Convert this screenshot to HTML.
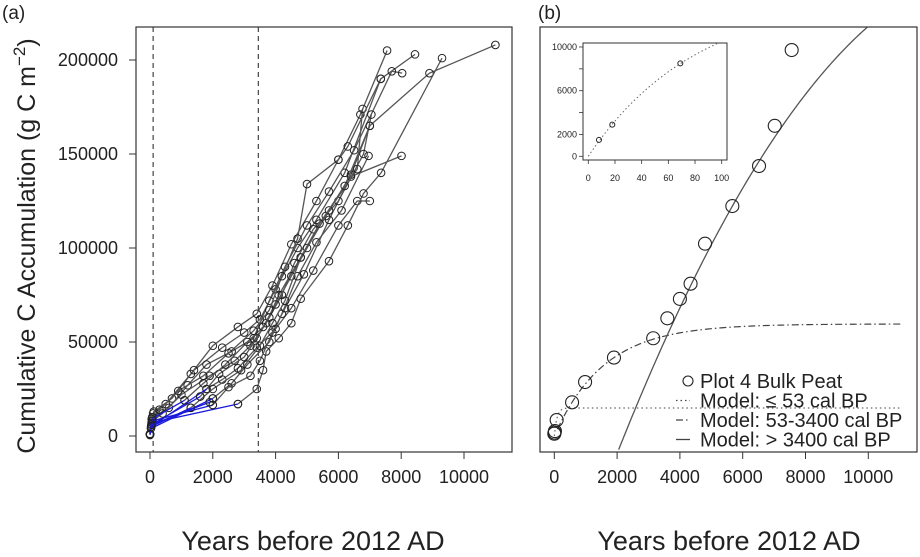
<!DOCTYPE html>
<html><head><meta charset="utf-8">
<style>
body{margin:0;background:#fff;}
svg{display:block;font-family:"Liberation Sans",sans-serif;}
</style></head>
<body>
<svg id="c" width="920" height="557" viewBox="0 0 920 557" xmlns="http://www.w3.org/2000/svg"></svg>
<script>
// ---- Panel (a) data: [years, cumulative C in thousands g C m^-2]
const aTicksX = [0, 2000, 4000, 6000, 8000, 10000];
const aTicksY = [0, 50000, 100000, 150000, 200000];
const aVLines = [100, 3450];
const blackSeries = [
 [[0,1],[50,6],[100,12],[500,17],[1300,33],[2000,48],[2800,58],[3400,65],[3900,80],[4500,102],[5300,125],[6000,147],[6700,171],[7550,205]],
 [[0,1],[60,7],[120,13],[700,20],[1400,35],[2300,47],[3000,55],[3500,62],[4000,78],[4700,100],[5300,115],[6200,140],[7350,190],[8440,203]],
 [[0,1],[40,5],[90,10],[600,15],[1200,27],[1800,38],[2600,45],[3300,52],[3800,72],[4300,90],[5000,112],[5700,130],[6500,152],[7700,194],[8030,193]],
 [[0,0.5],[80,8],[400,12],[1000,22],[1900,32],[2700,40],[3200,48],[3700,60],[4100,75],[4800,95],[5600,117],[6400,139],[7000,165],[8900,193],[11000,208]],
 [[1800,25],[2300,30],[2800,36],[3400,47],[4000,57],[4500,68],[5200,88],[6000,112],[6600,125],[7000,125]],
 [[2800,17],[3400,25],[3600,35],[3700,45],[4100,52],[4500,60],[4800,73],[5700,93],[6300,112],[6800,129],[7360,140],[9300,201]],
 [[2000,20],[2600,28],[3100,38],[3800,50],[4200,65],[4700,85],[5300,103],[6100,120],[6960,149]],
 [[2000,16.5],[2500,26],[3200,32],[3500,40],[3900,55],[4300,68],[4900,86],[5700,115],[6400,138],[8010,149]],
 [[1600,21],[2200,33],[3000,42],[3400,52],[3800,63],[4200,75],[4600,92],[5200,110],[6000,125],[6800,150],[7050,171]],
 [[1100,19],[1700,28],[2400,38],[3100,50],[3600,58],[4000,70],[4500,85],[5000,100],[5700,120],[6600,142],[6770,174]],
 [[1300,15],[2000,25],[2900,35],[3500,48],[3900,60],[4300,72],[4800,95],[5400,113],[6200,133],[7000,165]],
 [[0,1],[70,10],[300,14],[900,24],[1700,32],[2500,44],[3300,56],[3800,67],[4200,85],[4700,105],[5000,134],[6000,147],[6300,154],[7350,190]]
];
const blueSeries = [
 [[0,1],[40,5],[1800,25]],
 [[0,1],[50,7],[2800,17]],
 [[0,1],[30,4],[2000,20]],
 [[0,1],[60,8],[2000,16.5]],
 [[0,1],[45,6],[1600,21]],
 [[0,1],[55,9],[1100,19]],
 [[0,1],[35,5],[1300,15]],
 [[0,1],[50,6],[1900,18]]
];
// ---- Panel (b) data
const bTicksX = [0, 2000, 4000, 6000, 8000, 10000];
const bYears = [0, 10, 20, 75, 566, 980, 1900, 3150, 3600, 4000, 4340, 4800, 5670, 6520, 7020, 7560];
const bValues = [1.2, 1.8, 2.6, 8.5, 17.9, 28.7, 41.7, 52.0, 62.6, 72.9, 81.0, 102.3, 122.3, 143.6, 165.0, 205.3];
const modelEarlyMax = 14.9, modelEarlyK = 82;
const modelMidMax = 59.6, modelMidK = 1580;
const modelLate = {x0:2020, y0:-8.5, b:42.1, c:0.00172};
// ---- Inset data
const insetTicksX = [0,20,40,60,80,100];
const insetTicksY = [0,2000,6000,10000];
const insetYears = [8, 18, 69];
const insetValues = [1500, 2900, 8500];

const svg = document.getElementById('c');
const NS = 'http://www.w3.org/2000/svg';
function mk(tag, attrs, parent){const e=document.createElementNS(NS,tag);for(const k in attrs)e.setAttribute(k,attrs[k]);(parent||svg).appendChild(e);return e;}
function txt(s, attrs, parent){const e=mk('text',attrs,parent);e.textContent=s;return e;}

const ax = v => 150 + v*0.0314;
const ay = v => 436 - v*1.88;
const bx = v => 554.3 + v*0.0314;
const by = v => 436 - v*1.88;
const ix = v => 588.3 + v*1.334;
const iy = v => 156.3 - v*0.01093;

// Panel a
const ga = mk('g',{});  
const lab = txt('(a)',{x:2,y:19,'font-size':19,fill:'#222'},ga);
 
aVLines.forEach(v=>{const l=mk('line',{x1:ax(v),x2:ax(v),y1:27,y2:452,stroke:'#444','stroke-width':1.2,'stroke-dasharray':'5,4'},ga);
  });
function drawSeries(arr,color,parent,name){
  arr.forEach(s=>{
    const g=mk('g',{},parent);
     
    mk('polyline',{points:s.map(p=>ax(p[0])+','+ay(p[1])).join(' '),fill:'none',stroke:color,'stroke-width':1.3},g);
    s.forEach(p=>{const c=mk('circle',{cx:ax(p[0]),cy:ay(p[1]),r:3.8,fill:'none',stroke:'#222','stroke-width':1},g);
       });
  });
}
drawSeries(blackSeries,'#555',ga,'core-series');
drawSeries(blueSeries,'#1a1adb',ga,'recent-series');
const fa=mk('rect',{x:136,y:27,width:376,height:425,fill:'none',stroke:'#333','stroke-width':1.2},ga);
 
aTicksX.forEach(v=>{mk('line',{x1:ax(v),x2:ax(v),y1:452,y2:459,stroke:'#333'},ga);
 const t=txt(String(v),{x:ax(v),y:483,'font-size':18,'text-anchor':'middle',fill:'#222'},ga);
  });
aTicksY.forEach(v=>{mk('line',{x1:129,x2:136,y1:ay(v/1000),y2:ay(v/1000),stroke:'#333'},ga);
 const t=txt(String(v),{x:118,y:ay(v/1000)+6,'font-size':18,'text-anchor':'end',fill:'#222'},ga);
  });
const xa=txt('Years before 2012 AD',{x:313,y:550,'font-size':27,'text-anchor':'middle',fill:'#222'},ga);
 
const ya=mk('text',{transform:'translate(35,246) rotate(-90)','font-size':25,'text-anchor':'middle',fill:'#222'},ga);
 
ya.innerHTML='Cumulative C Accumulation (g C m<tspan dy="-10" font-size="17">−2</tspan><tspan dy="10">)</tspan>';

// Panel b
const gb = mk('g',{});  
const lb = txt('(b)',{x:538,y:19,'font-size':19,fill:'#222'},gb);
 
const clipB = mk('clipPath',{id:'cb'},gb); mk('rect',{x:540,y:27,width:377,height:425},clipB);
const gm = mk('g',{'clip-path':'url(#cb)'},gb);
let pe=[],pm=[],pl=[];
for(let x=0;x<=11050;x+=50){
  pe.push(bx(x)+','+by(modelEarlyMax*(1-Math.exp(-x/modelEarlyK))));
  if(x>=75) pm.push(bx(x)+','+by(modelMidMax*(1-Math.exp(-x/modelMidK))));
  if(x>=modelLate.x0){const t=x-modelLate.x0;pl.push(bx(x)+','+by(modelLate.y0+(modelLate.b*t - modelLate.c*t*t)/1000));}
}
const m1=mk('polyline',{points:pe.join(' '),fill:'none',stroke:'#666','stroke-width':1.2,'stroke-dasharray':'1.5,3'},gm);
 
const m2=mk('polyline',{points:pm.join(' '),fill:'none',stroke:'#444','stroke-width':1.2,'stroke-dasharray':'7,3,1.5,3'},gm);
 
const m3=mk('polyline',{points:pl.join(' '),fill:'none',stroke:'#555','stroke-width':1.3},gm);
 
bYears.forEach((v,i)=>{const c=mk('circle',{cx:bx(v),cy:by(bValues[i]),r:6.5,fill:'none',stroke:'#222','stroke-width':1.1},gb);
  });
const fb=mk('rect',{x:540,y:27,width:377,height:425,fill:'none',stroke:'#333','stroke-width':1.2},gb);
 
bTicksX.forEach(v=>{mk('line',{x1:bx(v),x2:bx(v),y1:452,y2:459,stroke:'#333'},gb);
 const t=txt(String(v),{x:bx(v),y:483,'font-size':18,'text-anchor':'middle',fill:'#222'},gb);
  });
const xb=txt('Years before 2012 AD',{x:729,y:550,'font-size':27,'text-anchor':'middle',fill:'#222'},gb);
 
// legend
const lg=mk('g',{},gb);  
const legItems=[['Plot 4 Bulk Peat','pt'],['Model: ≤ 53 cal BP','1.5,3'],['Model: 53-3400 cal BP','7,3,1.5,3'],['Model: > 3400 cal BP','']];
legItems.forEach((it,i)=>{const y=388+i*19.5;
 const e=mk('g',{},lg);  
 if(it[1]==='pt') mk('circle',{cx:688,cy:y-7,r:5,fill:'none',stroke:'#222','stroke-width':1.1},e);
 else {const a={x1:676,x2:690,y1:y-7,y2:y-7,stroke:'#444','stroke-width':1.3};if(it[1])a['stroke-dasharray']=it[1];mk('line',a,e);}
 txt(it[0],{x:700,y:y,'font-size':20,fill:'#222'},e);});
// inset
const gi=mk('g',{},gb);  
mk('rect',{x:583,y:43,width:144,height:117,fill:'#fff',stroke:'#333','stroke-width':1},gi);
const clipI=mk('clipPath',{id:'ci'},gi); mk('rect',{x:583,y:43,width:144,height:117},clipI);
let pi=[]; for(let x=0;x<=100;x+=2) pi.push(ix(x)+','+iy(modelEarlyMax*1000*(1-Math.exp(-x/modelEarlyK))));
const il=mk('polyline',{points:pi.join(' '),fill:'none',stroke:'#666','stroke-width':1,'stroke-dasharray':'1.5,2.5','clip-path':'url(#ci)'},gi);
 
insetYears.forEach((v,i)=>{const c=mk('circle',{cx:ix(v),cy:iy(insetValues[i]),r:2.5,fill:'none',stroke:'#222','stroke-width':1},gi);
  });
insetTicksX.forEach(v=>{mk('line',{x1:ix(v),x2:ix(v),y1:160,y2:164,stroke:'#333','stroke-width':0.8},gi);
 const t=txt(String(v),{x:ix(v),y:181,'font-size':9,'text-anchor':'middle',fill:'#222'},gi);
  });
[0,2000,4000,6000,8000,10000].forEach(v=>mk('line',{x1:579,x2:583,y1:iy(v),y2:iy(v),stroke:'#333','stroke-width':0.8},gi));
insetTicksY.forEach(v=>{const t=txt(String(v),{x:577,y:iy(v)+3,'font-size':9,'text-anchor':'end',fill:'#222'},gi);
  });
</script>
</body></html>
